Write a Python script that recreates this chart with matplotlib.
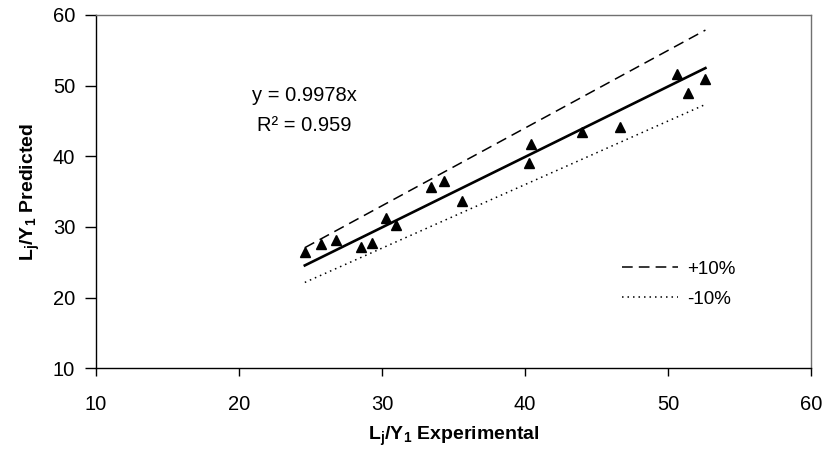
import numpy as np
import matplotlib
matplotlib.use("Agg")
import matplotlib.pyplot as plt

plt.rcParams['font.family'] = ['Liberation Sans', 'DejaVu Sans']
plt.rcParams['mathtext.fontset'] = 'custom'
plt.rcParams['mathtext.rm'] = 'Liberation Sans'
plt.rcParams['mathtext.bf'] = 'Liberation Sans:bold'

x_exp = [24.6, 25.7, 26.8, 28.5, 29.3, 30.3, 31.0, 33.4, 34.3, 35.6,
         40.4, 40.3, 44.0, 46.6, 50.6, 51.4, 52.6]
y_pred = [26.4, 27.6, 28.2, 27.2, 27.7, 31.3, 30.3, 35.7, 36.5, 33.6,
          41.8, 39.0, 43.4, 44.1, 51.6, 48.9, 51.0]

slope = 0.9978
r2 = 0.959
band = 0.10

x_ticks = [10, 20, 30, 40, 50, 60]
y_ticks = [10, 20, 30, 40, 50, 60]

fig = plt.figure(figsize=(8.27, 4.54), dpi=100)
ax = fig.add_axes([0.116, 0.189, 0.865, 0.778])

xl = np.array([min(x_exp), max(x_exp)])
ax.plot(xl, slope * xl, color='black', lw=1.9)
ax.plot(xl, (1 + band) * xl, color='black', lw=1.1, dashes=(7, 4), label='+10%')
ax.plot(xl, (1 - band) * xl, color='black', lw=1.1, dashes=(1, 2.6), label='-10%')
ax.plot(x_exp, y_pred, linestyle='none', marker='^', color='black', markersize=7.5)

ax.set_xlim(10, 60)
ax.set_ylim(10, 60)
ax.set_xticks(x_ticks)
ax.set_yticks(y_ticks)
ax.tick_params(axis='x', direction='out', length=6, width=1, pad=13, labelsize=14.5)
ax.tick_params(axis='y', direction='out', length=8, width=1, pad=7, labelsize=14.5)

for s in ['left', 'bottom']:
    ax.spines[s].set_color('black')
    ax.spines[s].set_linewidth(1.0)
for s in ['top', 'right']:
    ax.spines[s].set_color('#707070')
    ax.spines[s].set_linewidth(1.0)

ax.set_xlabel(r'L$_{\mathbf{j}}$/Y$_{\mathbf{1}}$ Experimental', fontsize=14,
              fontweight='bold', labelpad=8)
ax.set_ylabel(r'L$_{\mathbf{j}}$/Y$_{\mathbf{1}}$ Predicted', fontsize=14,
              fontweight='bold', labelpad=8)

ax.text(24.55, 48.6, 'y = %.4fx' % slope, ha='center', va='center', fontsize=14.5)
ax.text(24.55, 44.4, 'R\u00b2 = %.3f' % r2, ha='center', va='center', fontsize=14.5)

leg = ax.legend(loc='upper left', bbox_to_anchor=(0.735, 0.305), frameon=False,
                borderpad=0, borderaxespad=0, fontsize=13.5, handlelength=3.0,
                handletextpad=0.48, labelspacing=0.7)

fig.savefig('out.png', dpi=100)
